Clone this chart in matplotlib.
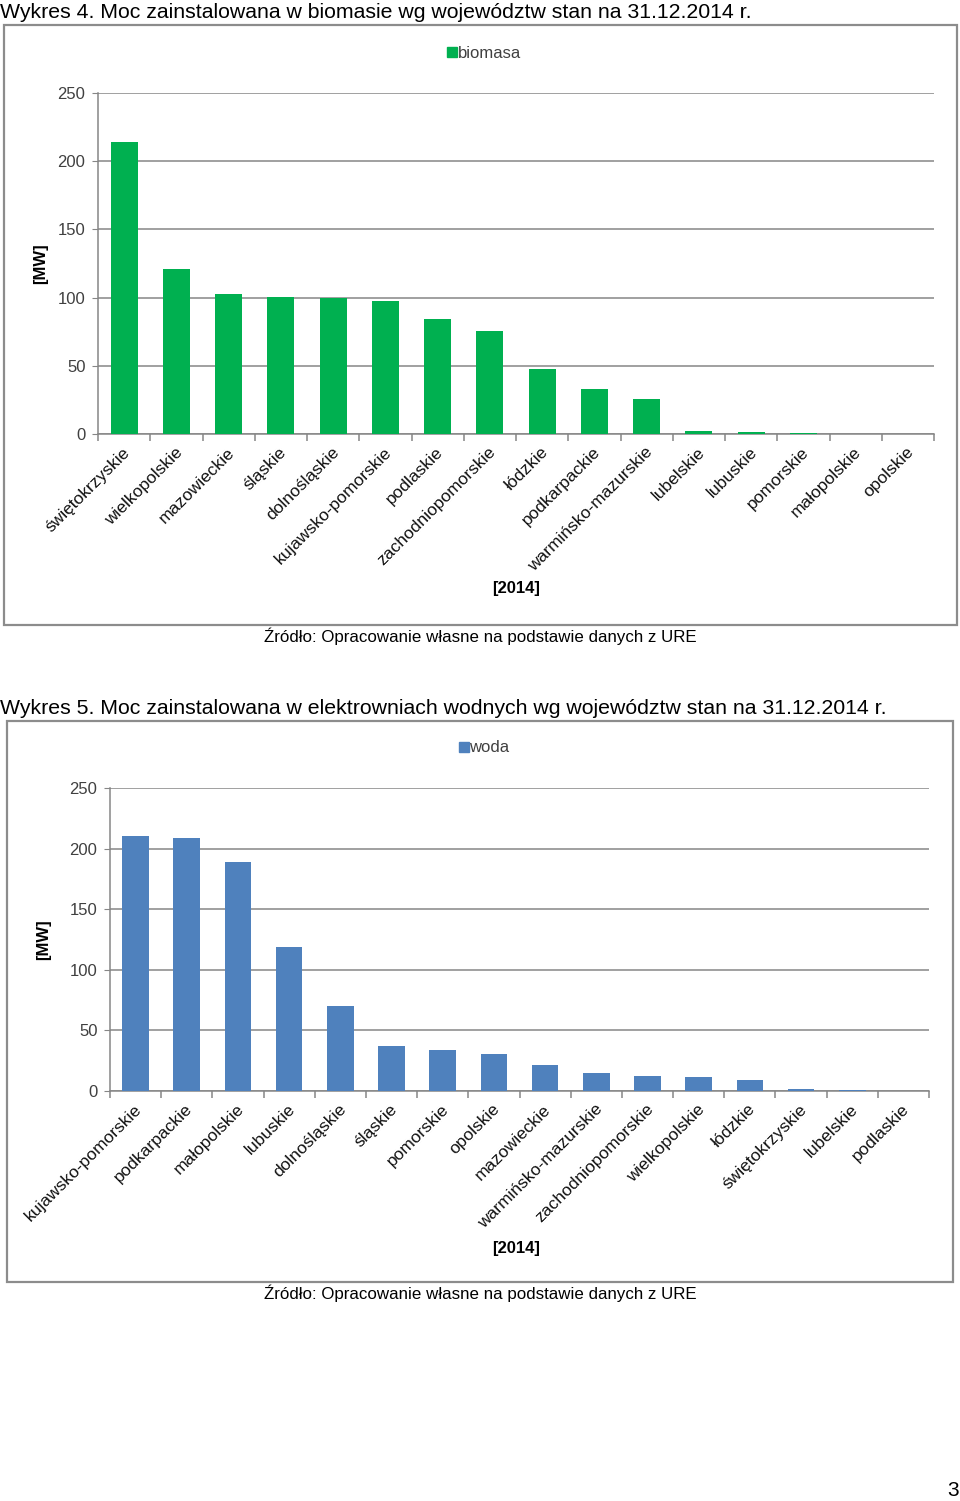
import matplotlib
matplotlib.use("Agg")
import matplotlib.pyplot as plt
from matplotlib.patches import Rectangle
from matplotlib.lines import Line2D
import matplotlib.transforms as mtransforms

plt.rcParams['font.family'] = ['Liberation Sans', 'DejaVu Sans']

# ---- data ----
regions_bio = ["świętokrzyskie", "wielkopolskie", "mazowieckie", "śląskie", "dolnośląskie",
               "kujawsko-pomorskie", "podlaskie", "zachodniopomorskie", "łódzkie", "podkarpackie",
               "warmińsko-mazurskie", "lubelskie", "lubuskie", "pomorskie", "małopolskie", "opolskie"]
values_bio = [214.0, 121.3, 102.7, 100.3, 99.9, 97.6, 84.1, 75.8, 47.4, 33.3,
              26.0, 2.2, 1.5, 0.7, 0.0, 0.0]

regions_hydro = ["kujawsko-pomorskie", "podkarpackie", "małopolskie", "lubuskie", "dolnośląskie",
                 "śląskie", "pomorskie", "opolskie", "mazowieckie", "warmińsko-mazurskie",
                 "zachodniopomorskie", "wielkopolskie", "łódzkie", "świętokrzyskie", "lubelskie", "podlaskie"]
values_hydro = [210.7, 209.1, 189.1, 118.4, 70.1, 37.1, 33.8, 30.3, 21.7, 15.1,
                12.4, 11.5, 9.1, 1.6, 0.8, 0.0]

yticks = [0, 50, 100, 150, 200, 250]
title4 = "Wykres 4. Moc zainstalowana w biomasie wg województw stan na 31.12.2014 r."
title5 = "Wykres 5. Moc zainstalowana w elektrowniach wodnych wg województw stan na 31.12.2014 r."
source = "Źródło: Opracowanie własne na podstawie danych z URE"

W, H = 960, 1501
fig = plt.figure(figsize=(W / 100, H / 100), dpi=100)
fig.patch.set_facecolor('white')

GRID = '#868686'


def fx(px):
    return px / W


def fy(py):
    return 1 - py / H


def box(l, t, r, b):
    fig.patches.append(Rectangle((fx(l), fy(b)), fx(r - l), (b - t) / H,
                                 transform=fig.transFigure, fill=False,
                                 edgecolor='#8c8c8c', linewidth=1.6))


def chart(l, t, r, b, cats, vals, color, legend_label, leg_y, year_y, mw_x):
    ax = fig.add_axes([fx(l), fy(b), fx(r - l), (b - t) / H])
    x = list(range(len(cats)))
    ax.bar(x, vals, width=0.52, color=color, zorder=3)
    ax.set_xlim(-0.5, len(cats) - 0.5)
    ax.set_ylim(0, 250)
    ax.set_yticks(yticks)
    ax.yaxis.grid(True, color=GRID, linewidth=1.1, zorder=0)
    ax.set_axisbelow(True)
    for s in ['top', 'right']:
        ax.spines[s].set_visible(False)
    for s in ['left', 'bottom']:
        ax.spines[s].set_color(GRID)
        ax.spines[s].set_linewidth(1.1)
    ax.tick_params(axis='y', length=4, color=GRID, labelsize=12, labelcolor='#404040', pad=5)
    ax.set_xticks(x)
    ax.set_xticks([i - 0.5 for i in range(len(cats) + 1)], minor=True)
    ax.tick_params(axis='x', which='major', length=0, pad=6)
    ax.tick_params(axis='x', which='minor', length=5, color=GRID, width=1.1)
    ax.set_xticklabels(cats, rotation=45, ha='right', va='center',
                       rotation_mode='anchor', fontsize=12.5, color='#111111')
    off = mtransforms.ScaledTranslation(0.035, -0.075, fig.dpi_scale_trans)
    for lab in ax.get_xticklabels():
        lab.set_transform(lab.get_transform() + off)
    fig.text(fx(mw_x), fy((t + b) / 2), "[MW]", fontsize=12, fontweight='bold',
             rotation=90, ha='center', va='center')
    ax.set_facecolor('white')
    # legend
    h = Line2D([], [], marker='s', color=color, linestyle='none', markersize=7)
    fig.legend([h], [legend_label], loc='center', bbox_to_anchor=(fx(484), fy(leg_y)),
               frameon=False, fontsize=12, handletextpad=0.05, borderpad=0,
               handlelength=0.6, labelcolor='#404040')
    fig.text(fx(516), fy(year_y), "[2014]", fontsize=12, fontweight='bold',
             ha='center', va='center')
    return ax


# chart 1
fig.text(0, fy(12), title4, fontsize=15.3, ha='left', va='center')
box(4, 25, 957, 625)
ax1 = chart(98, 93, 934, 434, regions_bio, values_bio, '#00B050', 'biomasa', 53, 589, 41)
fig.text(fx(480), fy(636), source, fontsize=12.2, ha='center', va='center')

# chart 2
fig.text(0, fy(708), title5, fontsize=15.3, ha='left', va='center')
box(7, 721, 953, 1282)
ax2 = chart(110, 788, 929, 1091, regions_hydro, values_hydro, '#4F81BD', 'woda', 748, 1248, 44)
fig.text(fx(480), fy(1293), source, fontsize=12.2, ha='center', va='center')

fig.text(fx(953), fy(1491), "3", fontsize=15, ha='center', va='center')

fig.savefig("out.png", dpi=100, facecolor='white')
